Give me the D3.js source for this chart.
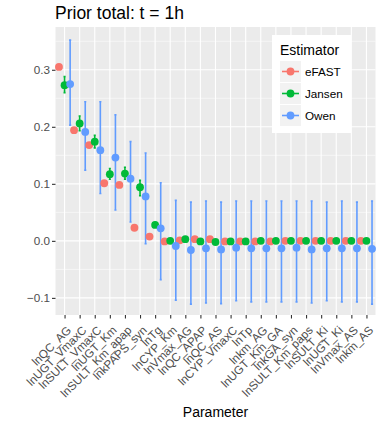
<!DOCTYPE html>
<html>
<head>
<meta charset="utf-8">
<script src="https://cdn.jsdelivr.net/npm/d3@7"></script>
<style>
  body { margin: 0; background: #fff; }
  svg { display: block; font-family: "Liberation Sans", Arial, sans-serif; }
</style>
</head>
<body>
<svg id="chart" width="385" height="424"></svg>
<script>
// Parameters, ordered by first-order sensitivity
const parameters = [
  "lnQC_AG", "lnUGT_VmaxC", "lnSULT_VmaxC", "lnUGT_Km", "lnSULT_Km_apap",
  "lnkPAPS_syn", "lnTg", "lnCYP_Km", "lnVmax_AG", "lnQC_APAP", "lnQC_AS",
  "lnCYP_VmaxC", "lnTp", "lnkm_AG", "lnUGT_Km_GA", "lnkGA_syn",
  "lnSULT_Km_paps", "lnSULT_Ki", "lnUGT_Ki", "lnVmax_AS", "lnkm_AS"
];
const estimators = ["eFAST", "Jansen", "Owen"];
const colors = ["#F8766D", "#00BA38", "#619CFF"];

// eFAST: point estimates only
const efast = [0.305, 0.194, 0.168, 0.101, 0.098, 0.023, 0.0075, -0.001, 0.001, 0.003,
               0.003, -0.001, -0.001, -0.001, -0.001, 0.000, 0.000, 0.000, 0.000, 0.000, 0.000];

// Jansen: estimate with lower / upper bounds
const jansen = [0.273, 0.206, 0.174, 0.117, 0.118, 0.094, 0.028, 0.000, 0.003, -0.001,
                -0.002, -0.001, -0.001, 0.000, 0.000, 0.000, 0.000, 0.000, 0.000, 0.000, 0.000];
const jansenLow = [0.260, 0.193, 0.163, 0.108, 0.108, 0.079, 0.024, -0.002, 0.001, -0.003,
                   -0.004, -0.003, -0.003, -0.002, -0.002, -0.002, -0.002, -0.002, -0.002, -0.002, -0.002];
const jansenHigh = [0.288, 0.219, 0.185, 0.127, 0.129, 0.106, 0.032, 0.002, 0.005, 0.001,
                    0.000, 0.001, 0.001, 0.002, 0.002, 0.002, 0.002, 0.002, 0.002, 0.002, 0.002];

// Owen: estimate with lower / upper bounds
const owen = [0.275, 0.191, 0.159, 0.146, 0.109, 0.078, 0.022, -0.009, -0.016, -0.013,
              -0.015, -0.012, -0.013, -0.013, -0.013, -0.012, -0.015, -0.013, -0.013, -0.013, -0.014];
const owenLow = [0.203, 0.124, 0.083, 0.054, 0.033, -0.005, -0.068, -0.104, -0.111, -0.109,
                 -0.110, -0.105, -0.107, -0.107, -0.107, -0.107, -0.109, -0.105, -0.107, -0.107, -0.111];
const owenHigh = [0.352, 0.244, 0.244, 0.221, 0.174, 0.154, 0.102, 0.071, 0.068, 0.070,
                  0.068, 0.070, 0.070, 0.070, 0.070, 0.070, 0.070, 0.068, 0.070, 0.068, 0.070];

const yTicks = [-0.1, 0.0, 0.1, 0.2, 0.3];
const yMinor = [-0.05, 0.05, 0.15, 0.25, 0.35];

const svg = d3.select("#chart");
const panel = { left: 55.5, right: 375.5, top: 27, bottom: 315 };

const x = d3.scaleLinear().domain([0.4, parameters.length + 0.6]).range([panel.left, panel.right]);
const y = d3.scaleLinear().domain([-0.13, 0.375]).range([panel.bottom, panel.top]);
const dodge = [-0.37, 0, 0.37];

// title
svg.append("text").attr("x", 55).attr("y", 19)
  .attr("font-size", 17.5).attr("fill", "#000").text("Prior total: t = 1h");

// panel background and grid
svg.append("rect").attr("x", panel.left).attr("y", panel.top)
  .attr("width", panel.right - panel.left).attr("height", panel.bottom - panel.top)
  .attr("fill", "#EBEBEB");

const grid = svg.append("g");
grid.selectAll(".ymin").data(yMinor).join("line")
  .attr("x1", panel.left).attr("x2", panel.right)
  .attr("y1", d => y(d)).attr("y2", d => y(d))
  .attr("stroke", "#fff").attr("stroke-width", 0.55);
grid.selectAll(".ymaj").data(yTicks).join("line")
  .attr("x1", panel.left).attr("x2", panel.right)
  .attr("y1", d => y(d)).attr("y2", d => y(d))
  .attr("stroke", "#fff").attr("stroke-width", 1.1);
grid.selectAll(".xmaj").data(parameters).join("line")
  .attr("x1", (d, i) => x(i + 1)).attr("x2", (d, i) => x(i + 1))
  .attr("y1", panel.top).attr("y2", panel.bottom)
  .attr("stroke", "#fff").attr("stroke-width", 1.1);

// axes
const yAxis = svg.append("g").attr("transform", `translate(${panel.left},0)`)
  .call(d3.axisLeft(y).tickValues(yTicks).tickFormat(d3.format(".1f")).tickSize(3.5).tickPadding(2));
yAxis.select(".domain").remove();
yAxis.selectAll("line").attr("stroke", "#333").attr("stroke-width", 1.1);
yAxis.selectAll("text").attr("font-size", 11.7).attr("fill", "#4D4D4D")
  .attr("font-family", "Liberation Sans, Arial, sans-serif");

const xAxis = svg.append("g").attr("transform", `translate(0,${panel.bottom})`)
  .call(d3.axisBottom(x).tickValues(d3.range(1, parameters.length + 1))
    .tickFormat(i => parameters[i - 1]).tickSize(3.5));
xAxis.select(".domain").remove();
xAxis.selectAll("line").attr("stroke", "#333").attr("stroke-width", 1.1);
xAxis.selectAll("text")
  .attr("font-size", 11.7).attr("fill", "#4D4D4D")
  .attr("font-family", "Liberation Sans, Arial, sans-serif")
  .attr("text-anchor", "end")
  .attr("y", 0).attr("dy", "0.72em")
  .attr("transform", "translate(1,10) rotate(-45)");

svg.append("text").attr("x", (panel.left + panel.right) / 2).attr("y", 417)
  .attr("text-anchor", "middle").attr("font-size", 14).attr("fill", "#000").text("Parameter");

// error bars
const bars = [
  { k: 1, est: jansen, lo: jansenLow, hi: jansenHigh },
  { k: 2, est: owen, lo: owenLow, hi: owenHigh }
];
const capHalf = 0.07;
bars.forEach(b => {
  const g = svg.append("g").attr("stroke", colors[b.k]).attr("stroke-width", 1.6).attr("fill", "none");
  parameters.forEach((p, i) => {
    const cx = i + 1 + dodge[b.k];
    g.append("path").attr("d",
      `M${x(cx - capHalf)},${y(b.hi[i])}H${x(cx + capHalf)}` +
      `M${x(cx)},${y(b.hi[i])}V${y(b.lo[i])}` +
      `M${x(cx - capHalf)},${y(b.lo[i])}H${x(cx + capHalf)}`);
  });
});

// points
const series = [efast, jansen, owen];
series.forEach((vals, k) => {
  svg.append("g").selectAll("circle").data(vals).join("circle")
    .attr("cx", (d, i) => x(i + 1 + dodge[k]))
    .attr("cy", d => y(d))
    .attr("r", 3.9)
    .attr("fill", colors[k]);
});

// legend
const lg = svg.append("g").attr("transform", "translate(272,35)");
lg.append("rect").attr("width", 79).attr("height", 98).attr("fill", "#fff");
lg.append("text").attr("x", 8).attr("y", 20).attr("font-size", 14).attr("fill", "#000").text("Estimator");
estimators.forEach((e, k) => {
  const ky = 26 + k * 22;
  const item = lg.append("g").attr("transform", `translate(8,${ky})`);
  item.append("rect").attr("width", 21).attr("height", 21).attr("fill", "#F2F2F2");
  item.append("line").attr("x1", 2).attr("x2", 19).attr("y1", 10.5).attr("y2", 10.5)
    .attr("stroke", colors[k]).attr("stroke-width", 1.6);
  item.append("circle").attr("cx", 10.5).attr("cy", 10.5).attr("r", 3.9).attr("fill", colors[k]);
  item.append("text").attr("x", 25).attr("y", 10.5).attr("dy", "0.36em")
    .attr("font-size", 11.7).attr("fill", "#000").text(e);
});
</script>
</body>
</html>
